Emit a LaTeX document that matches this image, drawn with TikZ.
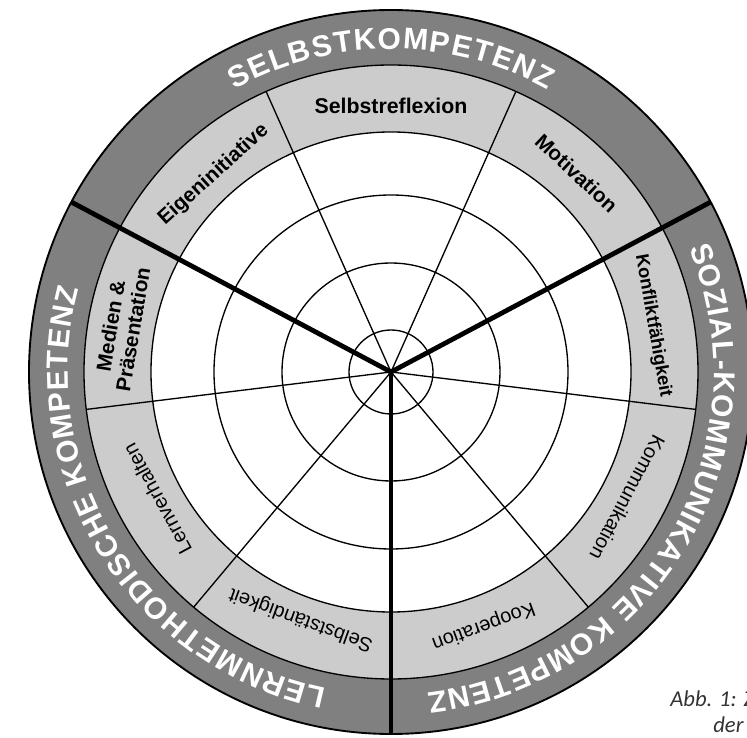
\documentclass[tikz,border=0pt]{standalone}
\usepackage{fontspec}
\setmainfont{Liberation Sans}
\newfontfamily\captionfont{Carlito}
\usepackage{tikz}
\usetikzlibrary{decorations.text}
\usepackage{xcolor}
\definecolor{ringdark}{gray}{0.5}
\definecolor{ringlight}{gray}{0.8}

\begin{document}
\begin{tikzpicture}[
    x=0.75pt, y=0.75pt,
    ring/.style={draw, line width=1pt},
    spoke/.style={line width=1pt},
    divider/.style={line width=3.6pt},
    facet/.style={inner sep=0pt, align=center, font=\fontsize{15}{17}\selectfont},
    boldfacet/.style={inner sep=0pt, align=center, font=\fontsize{15.5}{17}\selectfont\bfseries},
    ringtitle/.style={decorate, decoration={text along path, text align=fit to path,
        text={|\fontsize{22.5}{22.5}\selectfont\bfseries\color{white}|#1}}}
]
\useasboundingbox (-391,-366) rectangle (356,372);
\coordinate (c) at (0,0);

% Rings
\fill[ringdark] (c) circle[radius=362];
\fill[ringlight] (c) circle[radius=307];
\fill[white] (c) circle[radius=240];
\draw[line width=1.4pt] (c) circle[radius=362];
\draw[ring] (c) circle[radius=307];
\draw[ring] (c) circle[radius=240];
\draw[ring] (c) circle[radius=177];
\draw[ring] (c) circle[radius=109];
\draw[ring] (c) circle[radius=42];

% Spokes between the facets
\draw[spoke] (c) -- (66:307);
\draw[spoke] (c) -- (114:307);
\draw[spoke] (c) -- (-7:307);
\draw[spoke] (c) -- (-50:307);
\draw[spoke] (c) -- (187:307);
\draw[spoke] (c) -- (230:307);

% Dividers between the three areas
\draw[divider] (c) -- (28:362);
\draw[divider] (c) -- (152:362);
\draw[divider] (c) -- (270:362);

% Area titles
\path[ringtitle=SELBSTKOMPETENZ] (119:323) arc[start angle=119, end angle=61, radius=323];
\path[ringtitle=SOZIAL-KOMMUNIKATIVE KOMPETENZ] (22.5:323) arc[start angle=22.5, end angle=-83.5, radius=323];
\path[ringtitle=LERNMETHODISCHE KOMPETENZ] (258.5:323) arc[start angle=258.5, end angle=165, radius=323];

% Facets
\node[boldfacet, font=\fontsize{16}{17}\selectfont\bfseries] (selbstreflexion) at (90:266) {Selbstreflexion};
\node[boldfacet, rotate=-43] (motivation) at (47:272) {Motivation};
\node[boldfacet, rotate=42] (eigeninitiative) at (132:265) {Eigeninitiative};
\node[boldfacet, rotate=-80, font=\fontsize{13.8}{16}\selectfont\bfseries] (konflikt) at (10:266) {Konfliktfähigkeit};
\node[facet, rotate=-118] (kommunikation) at (-28:268) {Kommunikation};
\node[facet, rotate=-160] (kooperation) at (-70:270) {Kooperation};
\node[facet, rotate=160] (selbststaendigkeit) at (250:263) {Selbstständigkeit};
\node[facet, rotate=118.5] (lernverhalten) at (208.5:266) {Lernverhalten};
\node[boldfacet, rotate=80.6] (medien) at (170.6:273) {Medien \&\\Präsentation};

% Caption
\node[anchor=base west, inner sep=0pt, font=\captionfont\itshape\fontsize{17}{20}\selectfont, text=black!80] (caption1) at (279,-335) {Abb. 1: Z};
\node[anchor=base west, inner sep=0pt, font=\captionfont\itshape\fontsize{17}{20}\selectfont, text=black!80] (caption2) at (322,-361) {der ü};

\end{tikzpicture}
\end{document}
